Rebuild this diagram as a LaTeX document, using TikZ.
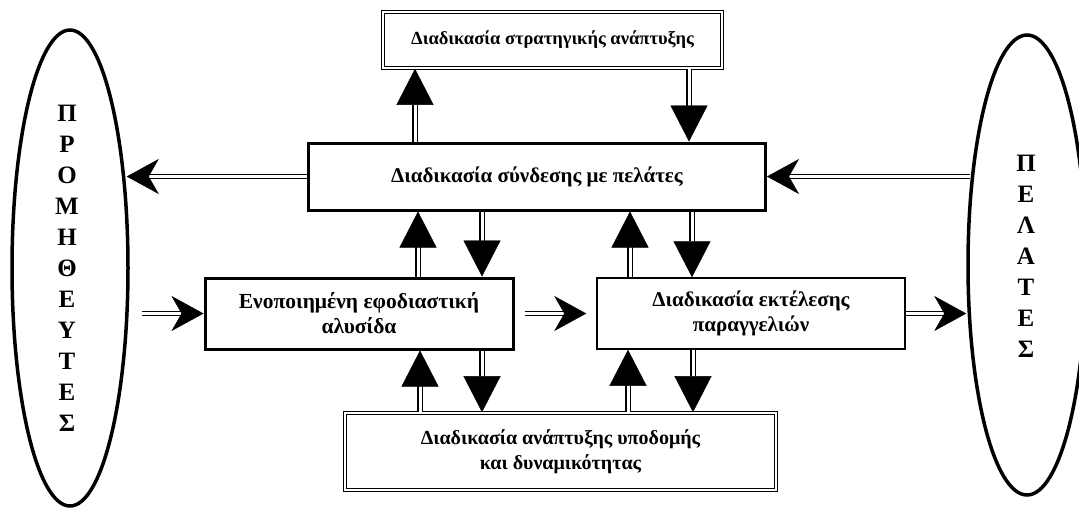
\documentclass[tikz,border=0pt]{standalone}
\usepackage{fontspec}
\setmainfont{Liberation Serif}
\usetikzlibrary{arrows.meta,shapes.geometric,calc}
\begin{document}
\begin{tikzpicture}[x=1pt,y=-1pt,
  txt/.style={font=\fontsize{21}{25}\selectfont\bfseries, align=center},
  box/.style={draw, line width=3pt, txt, inner sep=0pt},
  dbox/.style={draw, double, line width=1.6pt, double distance=1.5pt, txt, inner sep=0pt},
  shaft/.style={double, line width=1.3pt, double distance=3pt},
  vtip/.style={shaft, -{Triangle[length=36pt,width=37pt,line width=0.4pt]}},
  htip/.style={shaft, -{Stealth[length=32pt,width=35pt,inset=10pt,line width=0.4pt]}},
  ell/.style={draw, ellipse, line width=3.5pt, inner sep=0pt},
  letters/.style={font=\fontsize{25}{31}\selectfont\bfseries, align=center, inner sep=0pt}]
\clip (0,0) rectangle (1079,507);
\fill[white] (0,0) rectangle (1079,507);
% boxes
\node[dbox, font=\fontsize{18.5}{22}\selectfont\bfseries, minimum width=339pt, minimum height=56pt] (strat) at (552.5,40) {Διαδικασία στρατηγικής ανάπτυξης};
\node[box, minimum width=457pt, minimum height=67pt] (syn) at (537,176.5) {Διαδικασία σύνδεσης με πελάτες};
\node[box, font=\fontsize{21.5}{25}\selectfont\bfseries, minimum width=308pt, minimum height=71pt] (eno) at (359,313.5) {Ενοποιημένη εφοδιαστική\\αλυσίδα};
\node[box, line width=1.5pt, minimum width=308pt, minimum height=71pt] (exe) at (751,313.5) {Διαδικασία εκτέλεσης\\παραγγελιών};
\node[dbox, font=\fontsize{20}{25}\selectfont\bfseries, minimum width=431pt, minimum height=77pt] (inf) at (560.5,451.5) {Διαδικασία ανάπτυξης υποδομής\\και δυναμικότητας};
% ellipses
\node[ell, minimum width=116pt, minimum height=476pt] (sup) at (70,268) {};
\node[letters] (suptxt) at (67,268) {Π\\Ρ\\Ο\\Μ\\Η\\Θ\\Ε\\Υ\\Τ\\Ε\\Σ};
\node[ell, minimum width=118pt, minimum height=460pt] (cus) at (1027,265) {};
\node[letters] (custxt) at (1026,256) {Π\\Ε\\Λ\\Α\\Τ\\Ε\\Σ};
% columns for vertical connectors
\coordinate (a1) at (415,0);
\coordinate (a2) at (689,0);
\coordinate (b1) at (418,0);
\coordinate (b2) at (482,0);
\coordinate (b3) at (630,0);
\coordinate (b4) at (692,0);
\coordinate (c1) at (420,0);
\coordinate (c2) at (482,0);
\coordinate (c3) at (628,0);
\coordinate (c4) at (693,0);
% vertical arrows
\draw[vtip] (a1 |- syn.north) -- (a1 |- strat.south);
\draw[vtip] (a2 |- strat.south) -- (a2 |- syn.north);
\draw[vtip] (b1 |- eno.north) -- (b1 |- syn.south);
\draw[vtip] (b2 |- syn.south) -- (b2 |- eno.north);
\draw[vtip] (b3 |- exe.north) -- (b3 |- syn.south);
\draw[vtip] (b4 |- syn.south) -- (b4 |- exe.north);
\draw[vtip] (c1 |- inf.north) -- (c1 |- eno.south);
\draw[vtip] (c2 |- eno.south) -- (c2 |- inf.north);
\draw[vtip] (c3 |- inf.north) -- (c3 |- exe.south);
\draw[vtip] (c4 |- exe.south) -- (c4 |- inf.north);
% horizontal arrows
\draw[htip, shorten >=-3pt] (syn.west) -- (syn.west -| sup.east);
\draw[htip, shorten <=-4pt] (cus.west |- syn.east) -- (syn.east);
\draw[htip, shorten <=12pt] (sup.east |- eno.west) -- (eno.west);
\draw[htip, shorten <=10pt, shorten >=10pt] (eno.east) -- (exe.west);
\draw[htip] (exe.east) -- (exe.east -| cus.west);
\end{tikzpicture}
\end{document}
